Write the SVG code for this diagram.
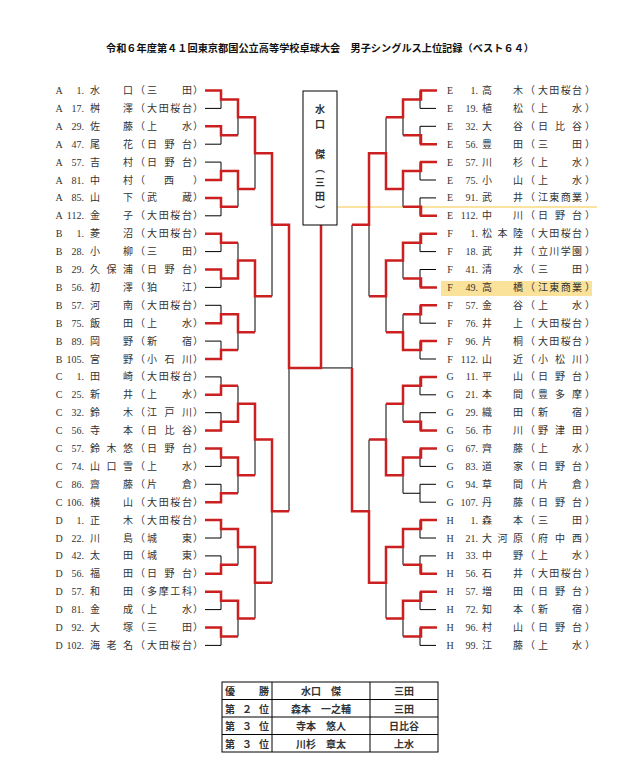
<svg xmlns="http://www.w3.org/2000/svg" xmlns:xlink="http://www.w3.org/1999/xlink" width="634" height="764" viewBox="0 0 634 764">
<style>
text{font-family:"Liberation Serif","Noto Sans CJK JP",serif;font-size:10px;fill:#333}
.c{text-anchor:middle}.e{text-anchor:end}
.blk{fill:none;stroke:#000;stroke-width:1}
.red{fill:none;stroke:#cc1f1f;stroke-width:2.5;stroke-linejoin:miter}
.t{font-family:"Liberation Sans","Noto Sans CJK JP",sans-serif;font-weight:bold;fill:#111}
.tb{fill:none;stroke:#000;stroke-width:1}
#right .n{font-size:9.5px}
</style>
<rect width="634" height="764" fill="#fff"/>
<text class="t c" x="320" y="52" font-size="11" textLength="428" lengthAdjust="spacingAndGlyphs">令和６年度第４１回東京都国公立高等学校卓球大会　男子シングルス上位記録（ベスト６４）</text>
<rect x="441" y="281" width="151" height="15" fill="#fbe29a"/>
<line x1="317" y1="207" x2="597" y2="207" stroke="#f5c542" stroke-width="1"/>
<g id="connectors">
<path id="blk" class="blk" d="M205 90.5H221V108.4H205M205 126.3H221V144.2H205M205 162.1H221V180H205M205 197.9H221V215.8H205M205 233.7H221V251.6H205M205 269.5H221V287.4H205M205 305.3H221V323.2H205M205 341.1H221V359H205M205 376.9H221V394.8H205M205 412.7H221V430.6H205M205 448.5H221V466.4H205M205 484.3H221V502.2H205M205 520.1H221V538H205M205 555.9H221V573.8H205M205 591.7H221V609.6H205M205 627.5H221V645.4H205M221 99.45H238V135.25H221M221 171.05H238V206.85H221M221 242.65H238V278.45H221M221 314.25H238V350.05H221M221 385.85H238V421.65H221M221 457.45H238V493.25H221M221 529.05H238V564.85H221M221 600.65H238V636.45H221M238 117.35H255V188.95H238M238 260.55H255V332.15H238M238 403.75H255V475.35H238M238 546.95H255V618.55H238M255 153.15H272V296.35H255M255 439.55H272V582.75H255M272 224.75H289V511.15H272"/>
<use xlink:href="#blk" transform="translate(641,0) scale(-1,1)"/>
<path class="blk" d="M289 367.95H352"/>
<g class="red">
<path d="M205 90.5H221V99.45H238V117.35H255V153.15H272V224.75H289V367.95H321V225"/>
<path d="M205 126.3H221V135.25H238"/>
<path d="M205 180H221V171.05H238V188.95H255"/>
<path d="M205 197.9H221V206.85H238"/>
<path d="M205 233.7H221V242.65H238"/>
<path d="M205 269.5H221V278.45H238V260.55H255V296.35H272"/>
<path d="M205 323.2H221V314.25H238V332.15H255"/>
<path d="M205 359H221V350.05H238"/>
<path d="M205 394.8H221V385.85H238"/>
<path d="M205 430.6H221V421.65H238V403.75H255V439.55H272V511.15H289"/>
<path d="M205 448.5H221V457.45H238V475.35H255"/>
<path d="M205 502.2H221V493.25H238"/>
<path d="M205 520.1H221V529.05H238V546.95H255V582.75H272"/>
<path d="M205 573.8H221V564.85H238"/>
<path d="M205 591.7H221V600.65H238V618.55H255"/>
<path d="M205 627.5H221V636.45H238"/>
<path d="M437 90.5H421V99.45H403V117.35H386"/>
<path d="M437 144.2H421V135.25H403"/>
<path d="M437 162.1H421V171.05H403V188.95H386V153.15H369V224.75H352"/>
<path d="M437 215.8H421V206.85H403"/>
<path d="M437 233.7H421V242.65H403V260.55H386V296.35H369"/>
<path d="M437 287.4H421V278.45H403"/>
<path d="M437 305.3H421V314.25H403"/>
<path d="M437 341.1H421V350.05H403V332.15H386"/>
<path d="M437 376.9H421V385.85H403V403.75H386"/>
<path d="M437 430.6H421V421.65H403"/>
<path d="M437 448.5H421V457.45H403V475.35H386V439.55H369"/>
<path d="M437 520.1H421V529.05H403V546.95H386V582.75H369V511.15H352V367.95"/>
<path d="M437 573.8H421V564.85H403"/>
<path d="M437 591.7H421V600.65H403V618.55H386"/>
<path d="M437 627.5H421V636.45H403"/>
</g>
</g>
<g id="champion">
<rect x="303" y="91" width="34" height="134" fill="#fff" stroke="#000" stroke-width="1"/>
<g class="t c" font-size="14">
<text x="320" y="113">水</text><text x="320" y="128">口</text><text x="320" y="158">傑</text><text x="320" y="172">︵</text><text x="320" y="186">三</text><text x="320" y="200">田</text><text x="320" y="214">︶</text>
</g>
</g>
<g id="left">
<g transform="translate(0,94)"><text x="59" class="c">A</text><text x="84" class="e">1.</text><text x="90" textLength="43">水口</text><text x="140" class="c">（</text><text x="147" textLength="45">三田</text><text x="198" class="c">）</text></g>
<g transform="translate(0,111.9)"><text x="59" class="c">A</text><text x="84" class="e">17.</text><text x="90" textLength="43">桝澤</text><text x="140" class="c">（</text><text x="147" textLength="45">大田桜台</text><text x="198" class="c">）</text></g>
<g transform="translate(0,129.8)"><text x="59" class="c">A</text><text x="84" class="e">29.</text><text x="90" textLength="43">佐藤</text><text x="140" class="c">（</text><text x="147" textLength="45">上水</text><text x="198" class="c">）</text></g>
<g transform="translate(0,147.7)"><text x="59" class="c">A</text><text x="84" class="e">47.</text><text x="90" textLength="43">尾花</text><text x="140" class="c">（</text><text x="147" textLength="45">日野台</text><text x="198" class="c">）</text></g>
<g transform="translate(0,165.6)"><text x="59" class="c">A</text><text x="84" class="e">57.</text><text x="90" textLength="43">吉村</text><text x="140" class="c">（</text><text x="147" textLength="45">日野台</text><text x="198" class="c">）</text></g>
<g transform="translate(0,183.5)"><text x="59" class="c">A</text><text x="84" class="e">81.</text><text x="90" textLength="43">中村</text><text x="140" class="c">（</text><text x="169" class="c">西</text><text x="198" class="c">）</text></g>
<g transform="translate(0,201.4)"><text x="59" class="c">A</text><text x="84" class="e">85.</text><text x="90" textLength="43">山下</text><text x="140" class="c">（</text><text x="147" textLength="45">武蔵</text><text x="198" class="c">）</text></g>
<g transform="translate(0,219.3)"><text x="59" class="c">A</text><text x="84" class="e">112.</text><text x="90" textLength="43">金子</text><text x="140" class="c">（</text><text x="147" textLength="45">大田桜台</text><text x="198" class="c">）</text></g>
<g transform="translate(0,237.2)"><text x="59" class="c">B</text><text x="84" class="e">1.</text><text x="90" textLength="43">菱沼</text><text x="140" class="c">（</text><text x="147" textLength="45">大田桜台</text><text x="198" class="c">）</text></g>
<g transform="translate(0,255.1)"><text x="59" class="c">B</text><text x="84" class="e">28.</text><text x="90" textLength="43">小柳</text><text x="140" class="c">（</text><text x="147" textLength="45">三田</text><text x="198" class="c">）</text></g>
<g transform="translate(0,273)"><text x="59" class="c">B</text><text x="84" class="e">29.</text><text x="90" textLength="43">久保浦</text><text x="140" class="c">（</text><text x="147" textLength="45">日野台</text><text x="198" class="c">）</text></g>
<g transform="translate(0,290.9)"><text x="59" class="c">B</text><text x="84" class="e">56.</text><text x="90" textLength="43">初澤</text><text x="140" class="c">（</text><text x="147" textLength="45">狛江</text><text x="198" class="c">）</text></g>
<g transform="translate(0,308.8)"><text x="59" class="c">B</text><text x="84" class="e">57.</text><text x="90" textLength="43">河南</text><text x="140" class="c">（</text><text x="147" textLength="45">大田桜台</text><text x="198" class="c">）</text></g>
<g transform="translate(0,326.7)"><text x="59" class="c">B</text><text x="84" class="e">75.</text><text x="90" textLength="43">飯田</text><text x="140" class="c">（</text><text x="147" textLength="45">上水</text><text x="198" class="c">）</text></g>
<g transform="translate(0,344.6)"><text x="59" class="c">B</text><text x="84" class="e">89.</text><text x="90" textLength="43">岡野</text><text x="140" class="c">（</text><text x="147" textLength="45">新宿</text><text x="198" class="c">）</text></g>
<g transform="translate(0,362.5)"><text x="59" class="c">B</text><text x="84" class="e">105.</text><text x="90" textLength="43">宮野</text><text x="140" class="c">（</text><text x="147" textLength="45">小石川</text><text x="198" class="c">）</text></g>
<g transform="translate(0,380.4)"><text x="59" class="c">C</text><text x="84" class="e">1.</text><text x="90" textLength="43">田崎</text><text x="140" class="c">（</text><text x="147" textLength="45">大田桜台</text><text x="198" class="c">）</text></g>
<g transform="translate(0,398.3)"><text x="59" class="c">C</text><text x="84" class="e">25.</text><text x="90" textLength="43">新井</text><text x="140" class="c">（</text><text x="147" textLength="45">上水</text><text x="198" class="c">）</text></g>
<g transform="translate(0,416.2)"><text x="59" class="c">C</text><text x="84" class="e">32.</text><text x="90" textLength="43">鈴木</text><text x="140" class="c">（</text><text x="147" textLength="45">江戸川</text><text x="198" class="c">）</text></g>
<g transform="translate(0,434.1)"><text x="59" class="c">C</text><text x="84" class="e">56.</text><text x="90" textLength="43">寺本</text><text x="140" class="c">（</text><text x="147" textLength="45">日比谷</text><text x="198" class="c">）</text></g>
<g transform="translate(0,452)"><text x="59" class="c">C</text><text x="84" class="e">57.</text><text x="90" textLength="43">鈴木悠</text><text x="140" class="c">（</text><text x="147" textLength="45">日野台</text><text x="198" class="c">）</text></g>
<g transform="translate(0,469.9)"><text x="59" class="c">C</text><text x="84" class="e">74.</text><text x="90" textLength="43">山口雪</text><text x="140" class="c">（</text><text x="147" textLength="45">上水</text><text x="198" class="c">）</text></g>
<g transform="translate(0,487.8)"><text x="59" class="c">C</text><text x="84" class="e">86.</text><text x="90" textLength="43">齋藤</text><text x="140" class="c">（</text><text x="147" textLength="45">片倉</text><text x="198" class="c">）</text></g>
<g transform="translate(0,505.7)"><text x="59" class="c">C</text><text x="84" class="e">106.</text><text x="90" textLength="43">横山</text><text x="140" class="c">（</text><text x="147" textLength="45">大田桜台</text><text x="198" class="c">）</text></g>
<g transform="translate(0,523.6)"><text x="59" class="c">D</text><text x="84" class="e">1.</text><text x="90" textLength="43">正木</text><text x="140" class="c">（</text><text x="147" textLength="45">大田桜台</text><text x="198" class="c">）</text></g>
<g transform="translate(0,541.5)"><text x="59" class="c">D</text><text x="84" class="e">22.</text><text x="90" textLength="43">川島</text><text x="140" class="c">（</text><text x="147" textLength="45">城東</text><text x="198" class="c">）</text></g>
<g transform="translate(0,559.4)"><text x="59" class="c">D</text><text x="84" class="e">42.</text><text x="90" textLength="43">太田</text><text x="140" class="c">（</text><text x="147" textLength="45">城東</text><text x="198" class="c">）</text></g>
<g transform="translate(0,577.3)"><text x="59" class="c">D</text><text x="84" class="e">56.</text><text x="90" textLength="43">福田</text><text x="140" class="c">（</text><text x="147" textLength="45">日野台</text><text x="198" class="c">）</text></g>
<g transform="translate(0,595.2)"><text x="59" class="c">D</text><text x="84" class="e">57.</text><text x="90" textLength="43">和田</text><text x="140" class="c">（</text><text x="147" textLength="45">多摩工科</text><text x="198" class="c">）</text></g>
<g transform="translate(0,613.1)"><text x="59" class="c">D</text><text x="84" class="e">81.</text><text x="90" textLength="43">金成</text><text x="140" class="c">（</text><text x="147" textLength="45">上水</text><text x="198" class="c">）</text></g>
<g transform="translate(0,631)"><text x="59" class="c">D</text><text x="84" class="e">92.</text><text x="90" textLength="43">大塚</text><text x="140" class="c">（</text><text x="147" textLength="45">三田</text><text x="198" class="c">）</text></g>
<g transform="translate(0,648.9)"><text x="59" class="c">D</text><text x="84" class="e">102.</text><text x="90" textLength="43">海老名</text><text x="140" class="c">（</text><text x="147" textLength="45">大田桜台</text><text x="198" class="c">）</text></g>
</g>
<g id="right">
<g transform="translate(0,94)"><text x="450" class="c">E</text><text x="478" class="e">1.</text><text x="482" textLength="41">高木</text><text x="530" class="c">（</text><text x="538" textLength="44">大田桜台</text><text x="590" class="c">）</text></g>
<g transform="translate(0,111.9)"><text x="450" class="c">E</text><text x="478" class="e">19.</text><text x="482" textLength="41">植松</text><text x="530" class="c">（</text><text x="538" textLength="44">上水</text><text x="590" class="c">）</text></g>
<g transform="translate(0,129.8)"><text x="450" class="c">E</text><text x="478" class="e">32.</text><text x="482" textLength="41">大谷</text><text x="530" class="c">（</text><text x="538" textLength="44">日比谷</text><text x="590" class="c">）</text></g>
<g transform="translate(0,147.7)"><text x="450" class="c">E</text><text x="478" class="e">56.</text><text x="482" textLength="41">豊田</text><text x="530" class="c">（</text><text x="538" textLength="44">三田</text><text x="590" class="c">）</text></g>
<g transform="translate(0,165.6)"><text x="450" class="c">E</text><text x="478" class="e">57.</text><text x="482" textLength="41">川杉</text><text x="530" class="c">（</text><text x="538" textLength="44">上水</text><text x="590" class="c">）</text></g>
<g transform="translate(0,183.5)"><text x="450" class="c">E</text><text x="478" class="e">75.</text><text x="482" textLength="41">小山</text><text x="530" class="c">（</text><text x="538" textLength="44">上水</text><text x="590" class="c">）</text></g>
<g transform="translate(0,201.4)"><text x="450" class="c">E</text><text x="478" class="e">91.</text><text x="482" textLength="41">武井</text><text x="530" class="c">（</text><text x="538" textLength="44">江東商業</text><text x="590" class="c">）</text></g>
<g transform="translate(0,219.3)"><text x="450" class="c">E</text><text x="478" class="e">112.</text><text x="482" textLength="41">中川</text><text x="530" class="c">（</text><text x="538" textLength="44">日野台</text><text x="590" class="c">）</text></g>
<g transform="translate(0,237.2)"><text x="450" class="c">F</text><text x="478" class="e">1.</text><text x="482" textLength="41">松本陸</text><text x="530" class="c">（</text><text x="538" textLength="44">大田桜台</text><text x="590" class="c">）</text></g>
<g transform="translate(0,255.1)"><text x="450" class="c">F</text><text x="478" class="e">18.</text><text x="482" textLength="41">武井</text><text x="530" class="c">（</text><text x="538" textLength="44">立川学園</text><text x="590" class="c">）</text></g>
<g transform="translate(0,273)"><text x="450" class="c">F</text><text x="478" class="e">41.</text><text x="482" textLength="41">清水</text><text x="530" class="c">（</text><text x="538" textLength="44">三田</text><text x="590" class="c">）</text></g>
<g transform="translate(0,290.9)"><text x="450" class="c">F</text><text x="478" class="e">49.</text><text x="482" textLength="41">高橋</text><text x="530" class="c">（</text><text x="538" textLength="44">江東商業</text><text x="590" class="c">）</text></g>
<g transform="translate(0,308.8)"><text x="450" class="c">F</text><text x="478" class="e">57.</text><text x="482" textLength="41">金谷</text><text x="530" class="c">（</text><text x="538" textLength="44">上水</text><text x="590" class="c">）</text></g>
<g transform="translate(0,326.7)"><text x="450" class="c">F</text><text x="478" class="e">76.</text><text x="482" textLength="41">井上</text><text x="530" class="c">（</text><text x="538" textLength="44">大田桜台</text><text x="590" class="c">）</text></g>
<g transform="translate(0,344.6)"><text x="450" class="c">F</text><text x="478" class="e">96.</text><text x="482" textLength="41">片桐</text><text x="530" class="c">（</text><text x="538" textLength="44">大田桜台</text><text x="590" class="c">）</text></g>
<g transform="translate(0,362.5)"><text x="450" class="c">F</text><text x="478" class="e">112.</text><text x="482" textLength="41">山近</text><text x="530" class="c">（</text><text x="538" textLength="44">小松川</text><text x="590" class="c">）</text></g>
<g transform="translate(0,380.4)"><text x="450" class="c">G</text><text x="478" class="e">11.</text><text x="482" textLength="41">平山</text><text x="530" class="c">（</text><text x="538" textLength="44">日野台</text><text x="590" class="c">）</text></g>
<g transform="translate(0,398.3)"><text x="450" class="c">G</text><text x="478" class="e">21.</text><text x="482" textLength="41">本間</text><text x="530" class="c">（</text><text x="538" textLength="44">豊多摩</text><text x="590" class="c">）</text></g>
<g transform="translate(0,416.2)"><text x="450" class="c">G</text><text x="478" class="e">29.</text><text x="482" textLength="41">織田</text><text x="530" class="c">（</text><text x="538" textLength="44">新宿</text><text x="590" class="c">）</text></g>
<g transform="translate(0,434.1)"><text x="450" class="c">G</text><text x="478" class="e">56.</text><text x="482" textLength="41">市川</text><text x="530" class="c">（</text><text x="538" textLength="44">野津田</text><text x="590" class="c">）</text></g>
<g transform="translate(0,452)"><text x="450" class="c">G</text><text x="478" class="e">67.</text><text x="482" textLength="41">齊藤</text><text x="530" class="c">（</text><text x="538" textLength="44">上水</text><text x="590" class="c">）</text></g>
<g transform="translate(0,469.9)"><text x="450" class="c">G</text><text x="478" class="e">83.</text><text x="482" textLength="41">道家</text><text x="530" class="c">（</text><text x="538" textLength="44">日野台</text><text x="590" class="c">）</text></g>
<g transform="translate(0,487.8)"><text x="450" class="c">G</text><text x="478" class="e">94.</text><text x="482" textLength="41">草間</text><text x="530" class="c">（</text><text x="538" textLength="44">片倉</text><text x="590" class="c">）</text></g>
<g transform="translate(0,505.7)"><text x="450" class="c">G</text><text x="478" class="e">107.</text><text x="482" textLength="41">丹藤</text><text x="530" class="c">（</text><text x="538" textLength="44">日野台</text><text x="590" class="c">）</text></g>
<g transform="translate(0,523.6)"><text x="450" class="c">H</text><text x="478" class="e">1.</text><text x="482" textLength="41">森本</text><text x="530" class="c">（</text><text x="538" textLength="44">三田</text><text x="590" class="c">）</text></g>
<g transform="translate(0,541.5)"><text x="450" class="c">H</text><text x="478" class="e">21.</text><text x="482" textLength="41">大河原</text><text x="530" class="c">（</text><text x="538" textLength="44">府中西</text><text x="590" class="c">）</text></g>
<g transform="translate(0,559.4)"><text x="450" class="c">H</text><text x="478" class="e">33.</text><text x="482" textLength="41">中野</text><text x="530" class="c">（</text><text x="538" textLength="44">上水</text><text x="590" class="c">）</text></g>
<g transform="translate(0,577.3)"><text x="450" class="c">H</text><text x="478" class="e">56.</text><text x="482" textLength="41">石井</text><text x="530" class="c">（</text><text x="538" textLength="44">大田桜台</text><text x="590" class="c">）</text></g>
<g transform="translate(0,595.2)"><text x="450" class="c">H</text><text x="478" class="e">57.</text><text x="482" textLength="41">増田</text><text x="530" class="c">（</text><text x="538" textLength="44">日野台</text><text x="590" class="c">）</text></g>
<g transform="translate(0,613.1)"><text x="450" class="c">H</text><text x="478" class="e">72.</text><text x="482" textLength="41">知本</text><text x="530" class="c">（</text><text x="538" textLength="44">新宿</text><text x="590" class="c">）</text></g>
<g transform="translate(0,631)"><text x="450" class="c">H</text><text x="478" class="e">96.</text><text x="482" textLength="41">村山</text><text x="530" class="c">（</text><text x="538" textLength="44">日野台</text><text x="590" class="c">）</text></g>
<g transform="translate(0,648.9)"><text x="450" class="c">H</text><text x="478" class="e">99.</text><text x="482" textLength="41">江藤</text><text x="530" class="c">（</text><text x="538" textLength="44">上水</text><text x="590" class="c">）</text></g>
</g>
<g id="results">
<rect class="tb" x="222" y="682" width="216" height="70"/>
<path class="tb" d="M272 682V752M370 682V752M222 699.5H438M222 717H438M222 734.5H438"/>
<g class="t">
<text x="225" y="695" textLength="44">優勝</text><text x="321" y="695" class="c">水口　傑</text><text x="404" y="695" class="c">三田</text>
<text x="225" y="712.5" textLength="44">第２位</text><text x="321" y="712.5" class="c">森本　一之輔</text><text x="404" y="712.5" class="c">三田</text>
<text x="225" y="730" textLength="44">第３位</text><text x="321" y="730" class="c">寺本　悠人</text><text x="404" y="730" class="c">日比谷</text>
<text x="225" y="747.5" textLength="44">第３位</text><text x="321" y="747.5" class="c">川杉　章太</text><text x="404" y="747.5" class="c">上水</text>
</g>
</g>
</svg>
